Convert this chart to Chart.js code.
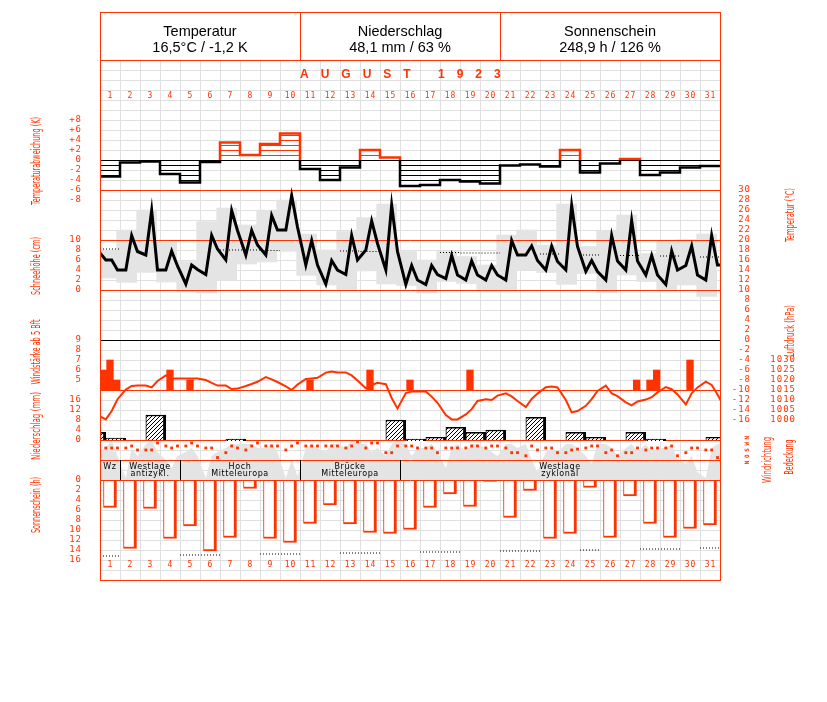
<!DOCTYPE html>
<html>
<head>
<meta charset="utf-8">
<title>August 1923</title>
<script src="https://cdn.jsdelivr.net/npm/chart.js@4.4.1/dist/chart.umd.min.js"></script>
<style>
  html, body { margin: 0; padding: 0; background: #fff; }
  canvas { display: block; }
</style>
</head>
<body>
<canvas id="klima" width="827" height="702"></canvas>
<script>
// Kopf
const headerTitles = ['Temperatur', 'Niederschlag', 'Sonnenschein'];
const headerValues = ['16,5°C / -1,2 K', '48,1 mm / 63 %', '248,9 h / 126 %'];
const monthTitle = 'AUGUST 1923';

const days = [1, 2, 3, 4, 5, 6, 7, 8, 9, 10, 11, 12, 13, 14, 15, 16, 17, 18, 19, 20,
  21, 22, 23, 24, 25, 26, 27, 28, 29, 30, 31];
const hours = [7, 14, 21]; // Terminbeobachtungen

// Temperatur an den Terminen 7, 14, 21 Uhr (°C)
const tempReadings = [
  [16, 16, 14], [14, 20.9, 17.7], [17, 25.9, 14], [14, 17.8, 14.8], [11.2, 15, 14.1],
  [13.1, 20.9, 18.2], [16, 25.9, 21.9], [17, 21.9, 19], [17, 24.9, 22], [22, 28.9, 22.6],
  [15, 19.9, 15], [11.2, 15.9, 14], [13.1, 20.9, 16], [18, 23.8, 19.3], [14, 27, 17.7],
  [11.1, 14.9, 12], [11.1, 14.9, 13.1], [12.3, 16.9, 13], [12, 15.8, 13], [12, 14.9, 13],
  [12, 19.9, 17], [17, 18.8, 15.9], [14, 18.8, 15.7], [14, 26.9, 18.7], [13.7, 15.9, 13.7],
  [12, 20.9, 15.8], [14, 23.9, 15.8], [13, 16.9, 13], [11.1, 17.8, 14], [14.9, 18.8, 13],
  [12, 20.9, 15]
];
const tempBefore = 18;   // 31.7. 21 Uhr
const tempAfter = 15;    // 1.9. 7 Uhr

const tMax = [18, 22, 26, 19.6, 15.7, 23.7, 26.4, 23, 26, 28, 21.2, 18, 21.7, 24.5, 27.2,
  17.7, 16, 17.7, 16.7, 15, 21, 22, 19, 27.2, 18.7, 21.8, 25, 17.3, 19.7, 20.1, 21.2];
const tMin = [12.4, 11.5, 13.5, 11.6, 9.7, 9.4, 12, 15.2, 15.6, 17.7, 12.9, 11, 10, 13.8, 11.2,
  10.9, 9.4, 11.7, 11.3, 9.8, 9.8, 14, 13.5, 11.1, 13.3, 9.5, 13, 11.7, 9.8, 11, 8.7];
// langjähriges Mittel (nur wo im Bild sichtbar)
const tempNormal = [18.2, null, null, null, null, null, 18.0, 18.0, 17.9, null, null, null,
  17.8, 17.7, null, null, null, 17.5, 17.4, 17.4, null, null, 17.2, null, 17.0, null, 16.9,
  null, 16.8, null, 16.6];

// Abweichung Tagesmittel (K)
const anomaly = [-3.3, -0.5, -0.3, -2.8, -4.5, -0.4, 3.5, 1, 3.2, 5.3, -1.8, -4, -1.5, 2, 0.5,
  -5.2, -5, -4, -4.3, -4.7, -1.1, -0.9, -1.3, 2, -2.5, -0.7, 0.2, -3, -2.5, -1.5, -1.2];

// Windstärke ab 5 Bft (Termine)
const windForce = [
  [6, 7, 5], [null, null, null], [null, null, null], [null, 6, null], [null, 5, null],
  [null, null, null], [null, null, null], [null, null, null], [null, null, null], [null, null, null],
  [null, 5, null], [null, null, null], [null, null, null], [null, 6, null], [null, null, null],
  [null, 5, null], [null, null, null], [null, null, null], [null, 6, null], [null, null, null],
  [null, null, null], [null, null, null], [null, null, null], [null, null, null], [null, null, null],
  [null, null, null], [null, null, 5], [null, 5, 6], [null, null, null], [null, 7, null],
  [null, null, null]
];

// Luftdruck (hPa)
const pressure = [
  [1000.3, 1004.5, 1010.4], [1015.2, 1017, 1017.2], [1017.2, 1016.3, 1019.5], [1022.3, 1020.8, 1020.8],
  [1020.8, 1020.8, 1020.8], [1020, 1018.6, 1017.2], [1017.2, 1015.5, 1015.7], [1017, 1018, 1019.1],
  [1021.5, 1020.3, 1019], [1016.8, 1015, 1017.7], [1020.5, 1020.8, 1021.1], [1023.7, 1024.2, 1023.8],
  [1023.8, 1022.3, 1019.7], [1015.9, 1017.5, 1018.6], [1017.9, 1011, 1005.8], [1013.5, 1014.2, 1014.2],
  [1014.2, 1011.7, 1008.6], [1002.5, 1000.3, 1000.3], [1002.8, 1005.4, 1009.5], [1010.4, 1010, 1012.2],
  [1013.3, 1011.8, 1009.5], [1006.5, 1010.5, 1013.2], [1016.4, 1016.7, 1016.3], [1010, 1003.8, 1004.5],
  [1007.1, 1010.4, 1014.5], [1017.2, 1013.3, 1011.9], [1008.8, 1007.3, 1009.3], [1010.2, 1011.4, 1013.8],
  [1016.5, 1015.4, 1012.8], [1007.8, 1013.3, 1016.3], [1019.2, 1017.5, 1012.7]
];
const pressureBefore = 1002.5;
const pressureAfter = 1005;

// Niederschlag (mm), gemessen 7 Uhr des Folgetages; 0 = Spur, null = trocken
const precipitation = [0.7, null, 10, null, null, null, 0, null, null, null, null, null, null, null, 8,
  0, 1.1, 5.1, 3.1, 4, null, 9.1, null, 3.1, 1.1, null, 3.1, 0, null, null, 1.1];
const precipBefore = 3.1;

// Windrichtung (Grad) an den Terminen
const windDir = [
  [225, 225, 225], [225, 270, 180], [180, 180, 338], [270, 225, 270], [270, 338, 270],
  [225, 225, 10], [120, 270, 225], [180, 270, 338], [270, 270, 270], [180, 270, 338],
  [270, 270, 270], [270, 270, 270], [225, 270, 360], [225, 338, 338], [120, 120, 270],
  [270, 270, 225], [225, 225, 120], [225, 225, 225], [225, 270, 270], [225, 270, 270],
  [225, 120, 120], [50, 270, 180], [225, 225, 120], [120, 180, 200], [225, 270, 270],
  [120, 180, 50], [120, 120, 225], [180, 225, 225], [225, 270, 50], [120, 225, 225],
  [180, 180, 10]
];

// Bedeckung (0-10)
const cloud = [
  [8, 10, 6], [0.5, 8, 6], [9, 10, 7], [5, 3, 6], [7, 8, 6], [0.5, 6, 7], [8, 9, 9], [9, 9, 8],
  [8, 9, 7], [0.5, 5, 1], [8, 9, 8], [7, 9, 9], [8, 10, 9], [9, 7, 8], [6, 9, 10], [9, 6, 8],
  [8, 9, 7], [3, 8, 9], [7, 9, 9], [8, 7, 6], [9, 9, 8], [9, 5, 2], [7, 8, 7], [9, 9, 8],
  [6, 4, 9], [9, 8, 6], [8, 9, 7], [9, 7, 8], [8, 9, 5], [4, 6, 2], [0.5, 8, 9]
];
const cloudBefore = 7;
const cloudAfter = 9;

// Sonnenscheindauer (h) und astronomisch mögliche Dauer (nur wo im Bild sichtbar)
const sunshine = [5.5, 13.7, 5.7, 11.7, 9.2, 14.2, 11.5, 1.7, 11.7, 12.5, 8.7, 5.0, 8.8, 10.5, 10.7,
  9.9, 5.5, 2.8, 5.3, 0.3, 7.5, 2.1, 11.7, 10.7, 1.5, 11.5, 3.2, 8.7, 11.5, 9.7, 9.0];
const sunPossible = [15.2, null, null, null, 15.0, 15.0, null, null, 14.8, 14.8, null, null, 14.6,
  14.6, null, null, 14.4, 14.4, null, null, 14.2, 14.2, null, null, 14.0, null, null, 13.8, 13.8,
  null, 13.6];

// Großwetterlagen
const weatherTypes = ['Wz', 'Westlage antizykl.', 'Hoch Mitteleuropa', 'Brücke Mitteleuropa', 'Westlage zyklonal'];
const weatherFirstDay = [1, 2, 5, 11, 16];

// Achsenbeschriftungen
const anomalyTicks = [8, 6, 4, 2, 0, -2, -4, -6, -8];
const snowTicks = [10, 8, 6, 4, 2, 0];
const windTicks = [9, 8, 7, 6, 5];
const precipTicks = [16, 12, 8, 4, 0];
const sunTicks = [0, 2, 4, 6, 8, 10, 12, 14, 16];
const tempTicks = [30, 28, 26, 24, 22, 20, 18, 16, 14, 12, 10, 8, 6, 4, 2, 0, -2, -4, -6, -8, -10, -12, -14, -16];
const pressureTicks = [1030, 1025, 1020, 1015, 1010, 1005, 1000];
const dirLabels = 'NOSWN';

const RED = '#ff3300';
const GRID = '#e0e0e0';
const SHADE = '#e4e4e4';
const MONO = '"DejaVu Sans Mono", monospace';
const NARROW = '"Liberation Sans Narrow", "DejaVu Sans Condensed", sans-serif';

const canvas = document.getElementById('klima');
const ctx = canvas.getContext('2d');

// Schraffuren
function pattern(w, h, color, cells) {
  const c = document.createElement('canvas');
  c.width = w; c.height = h;
  const g = c.getContext('2d');
  g.fillStyle = '#fff';
  g.fillRect(0, 0, w, h);
  g.fillStyle = color;
  cells.forEach(([x, y, cw, ch]) => g.fillRect(x, y, cw, ch));
  return ctx.createPattern(c, 'repeat');
}
function linesOnly(color) {
  const c = document.createElement('canvas');
  c.width = 4; c.height = 5;
  const g = c.getContext('2d');
  g.fillStyle = color;
  g.fillRect(0, 0, 4, 1);
  return ctx.createPattern(c, 'repeat');
}
const redLines = linesOnly(RED);
const blackLines = linesOnly('#000');
const hatch = pattern(4, 4, '#000', [[0, 3, 1, 1], [1, 2, 1, 1], [2, 1, 1, 1], [3, 0, 1, 1]]);

const atHours = rows => rows.flatMap((row, i) => row.map((v, k) => ({x: i + hours[k] / 24, y: v})));
const stepPts = vals => vals.flatMap((v, i) => [{x: i, y: v}, {x: i + 1, y: v}]);

const tempData = [{x: -3 / 24, y: tempBefore}, ...atHours(tempReadings), {x: 31 + 7 / 24, y: tempAfter}];
const pressData = [{x: -3 / 24, y: pressureBefore}, ...atHours(pressure), {x: 31 + 7 / 24, y: pressureAfter}];
const cloudData = [{x: -3 / 24, y: cloudBefore}, ...atHours(cloud), {x: 31 + 7 / 24, y: cloudAfter}];
const dirData = atHours(windDir);

const windData = [];
windForce.forEach((row, i) => row.forEach((b, k) => {
  if (b != null) windData.push({x: i + (k + 0.5) / 3, y: [4, b]});
}));
const precipData = [{x: -1 + 7 / 24 + 0.5, y: precipBefore}];
precipitation.forEach((p, i) => { if (p != null) precipData.push({x: i + 7 / 24 + 0.5, y: p}); });

const hidden = extra => Object.assign({type: 'linear', display: false}, extra);
const noSeg = color => ({
  borderColor: c => (c.p0.parsed.y === 0 && c.p1.parsed.y === 0) ? 'rgba(0,0,0,0)' : color
});

function crisp(v) { return Math.round(v) + 0.5; }
function hline(c, a, y, color) {
  c.strokeStyle = color; c.lineWidth = 1;
  c.beginPath(); c.moveTo(a.left, crisp(y)); c.lineTo(a.right + 1, crisp(y)); c.stroke();
}
function vText(c, text, x, yc, len, font, color) {
  c.save();
  c.font = font; c.fillStyle = color;
  c.translate(x, yc); c.rotate(-Math.PI / 2);
  const w = c.measureText(text).width;
  c.scale(len / w, 1);
  c.textAlign = 'center'; c.textBaseline = 'middle';
  c.fillText(text, 0, 0);
  c.restore();
}

const decor = {
  id: 'decor',
  beforeDatasetsDraw(chart) {
    const {ctx: c, chartArea: a, scales: s} = chart;
    c.save();
    c.strokeStyle = GRID; c.lineWidth = 1;
    c.beginPath();
    for (let d = 1; d < 31; d++) {
      const x = crisp(s.x.getPixelForValue(d));
      c.moveTo(x, a.top); c.lineTo(x, a.bottom);
    }
    for (let v = s.yT.min + 2; v < s.yT.max; v += 2) {
      const y = crisp(s.yT.getPixelForValue(v));
      c.moveTo(a.left, y); c.lineTo(a.right, y);
    }
    c.stroke();
    hline(c, a, s.yA.getPixelForValue(0), '#000');
    c.restore();
  },
  afterDatasetDraw(chart, args) {
    if (chart.data.datasets[args.index].label !== 'Tmax/Tmin') return;
    const {ctx: c, chartArea: a, scales: s} = chart;
    c.save();
    [[s.yT, 30], [s.yT, 20], [s.yT, 10], [s.yW, 4], [s.yR, 0], [s.yC, 5]].forEach(([sc, v]) =>
      hline(c, a, sc.getPixelForValue(v), RED));
    hline(c, a, s.yW.getPixelForValue(9), '#000');
    c.restore();
  },
  afterDraw(chart) {
    const {ctx: c, chartArea: a, scales: s} = chart;
    const px = d => s.x.getPixelForValue(d);
    c.save();

    // Großwetterlagen
    const rowTop = s.yC.getPixelForValue(5);
    const rowBot = s.yC.getPixelForValue(0);
    c.strokeStyle = '#000'; c.lineWidth = 1;
    c.beginPath();
    weatherFirstDay.forEach((d, i) => {
      if (i === 0) return;
      const x = crisp(px(d - 1));
      c.moveTo(x, rowTop); c.lineTo(x, rowBot);
    });
    c.stroke();
    c.fillStyle = '#000';
    c.font = '8px "DejaVu Sans", sans-serif';
    c.letterSpacing = '0.6px';
    c.textAlign = 'center'; c.textBaseline = 'middle';
    weatherTypes.forEach((t, i) => {
      const x0 = px(weatherFirstDay[i] - 1);
      const x1 = px(i + 1 < weatherFirstDay.length ? weatherFirstDay[i + 1] - 1 : 31);
      t.split(' ').forEach((line, j) => c.fillText(line, (x0 + x1) / 2, rowTop + 6.5 + j * 7.5));
    });
    c.letterSpacing = '0px';

    // Rahmen und Kopf
    c.strokeStyle = RED; c.lineWidth = 1;
    const top = 12;
    c.strokeRect(100.5, top + 0.5, 620, a.bottom - top);
    hline(c, a, a.top, RED);
    hline(c, a, s.yS.getPixelForValue(0), RED);
    c.beginPath();
    [10, 20].forEach(d => { const x = crisp(px(d)); c.moveTo(x, top); c.lineTo(x, a.top); });
    c.stroke();
    c.fillStyle = '#000';
    c.font = '14.5px "Liberation Sans", Arial, sans-serif';
    const boxes = [[0, 10], [10, 20], [20, 31]];
    boxes.forEach(([d0, d1], i) => {
      const xc = (px(d0) + px(d1)) / 2;
      c.fillText(headerTitles[i], xc, 32);
      c.fillText(headerValues[i], xc, 48);
    });

    // Monat
    c.fillStyle = RED;
    c.font = 'bold 12px "Liberation Sans", Arial, sans-serif';
    c.letterSpacing = '12px';
    c.textAlign = 'left';
    c.fillText(monthTitle, px(10), 75);
    c.letterSpacing = '0px';

    // Tage
    c.textAlign = 'center';
    c.font = '8px ' + MONO;
    c.letterSpacing = '1px';
    days.forEach(d => {
      c.fillText(String(d), px(d - 0.5) + 0.5, 96);
      c.fillText(String(d), px(d - 0.5) + 0.5, 565);
    });

    // Achsenzahlen links
    c.font = '9px ' + MONO;
    c.textAlign = 'right';
    const left = (sc, vals, fmt) => vals.forEach(v => c.fillText(fmt ? fmt(v) : String(v), 82, sc.getPixelForValue(v)));
    left(s.yA, anomalyTicks, v => v > 0 ? '+' + v : String(v));
    left(s.yN, snowTicks);
    left(s.yW, windTicks);
    left(s.yR, precipTicks);
    left(s.yS, sunTicks);
    // rechts
    tempTicks.forEach(v => c.fillText(String(v), 751, s.yT.getPixelForValue(v)));
    pressureTicks.forEach(v => c.fillText(String(v), 796, s.yP.getPixelForValue(v)));
    c.letterSpacing = '0px';

    // Titel
    const f = '12px ' + NARROW;
    vText(c, 'Temperaturabweichung (K)', 37, 161, 88, f, RED);
    vText(c, 'Schneehöhe (cm)', 37, 266, 58, f, RED);
    vText(c, 'Windstärke ab 5 Bft', 37, 352, 65, f, RED);
    vText(c, 'Niederschlag (mm)', 37, 426, 68, f, RED);
    vText(c, 'Sonnenschein (h)', 37, 505, 56, f, RED);
    vText(c, 'Temperatur (°C)', 791, 215, 54, f, RED);
    vText(c, 'Luftdruck (hPa)', 791, 331, 52, f, RED);
    vText(c, 'Windrichtung', 768, 460, 46, f, RED);
    vText(c, 'Bedeckung', 790, 457, 35, f, RED);
    c.save();
    c.translate(747, 450); c.rotate(-Math.PI / 2);
    c.font = 'bold 6px ' + MONO; c.fillStyle = RED; c.textAlign = 'center'; c.textBaseline = 'middle';
    dirLabels.split('').forEach((ch, i) => c.fillText(ch, (i - 2) * 6.2, 0));
    c.restore();

    c.restore();
  }
};

new Chart(canvas, {
  type: 'bar',
  data: {
    datasets: [
      {
        type: 'line', label: 'Bedeckung', data: cloudData, yAxisID: 'yC',
        borderColor: 'rgba(0,0,0,0)', borderWidth: 0, backgroundColor: SHADE, fill: 'origin',
        pointRadius: 0, order: 19, clip: 0
      },
      {
        label: 'Tmax/Tmin', data: tMax.map((mx, i) => ({x: i + 0.5 - 4 / 24, y: [tMin[i], mx]})),
        yAxisID: 'yT', backgroundColor: SHADE, borderWidth: 0, barThickness: 20, grouped: false,
        order: 18
      },
      {
        type: 'line', label: 'Normal', data: stepPts(tempNormal),
        yAxisID: 'yT', borderColor: '#000', borderWidth: 1, borderDash: [1, 2], pointRadius: 0,
        spanGaps: false, order: 7, clip: 0
      },
      {
        type: 'line', label: 'möglich', data: stepPts(sunPossible),
        yAxisID: 'yS', borderColor: '#000', borderWidth: 1, borderDash: [1, 2], pointRadius: 0,
        spanGaps: false, order: 7, clip: 0
      },
      {
        type: 'line', label: 'Abweichung +', data: stepPts(anomaly.map(v => Math.max(v, 0))),
        yAxisID: 'yA', borderColor: RED, borderWidth: 2.5, segment: noSeg(RED),
        backgroundColor: redLines, fill: 'origin', pointRadius: 0, order: 5, clip: 0
      },
      {
        type: 'line', label: 'Abweichung -', data: stepPts(anomaly.map(v => Math.min(v, 0))),
        yAxisID: 'yA', borderColor: '#000', borderWidth: 2.5, segment: noSeg('#000'),
        backgroundColor: blackLines, fill: 'origin', pointRadius: 0, order: 5, clip: 0
      },
      {
        label: 'Windstärke', data: windData, yAxisID: 'yW', backgroundColor: RED, borderWidth: 0,
        barThickness: 20 / 3, grouped: false, order: 6
      },
      {
        label: 'Niederschlag', data: precipData, yAxisID: 'yR', backgroundColor: hatch,
        borderColor: '#000', borderWidth: {left: 1, top: 1.5, right: 3, bottom: 0}, borderSkipped: false,
        barThickness: 20, grouped: false, minBarLength: 2, order: 6
      },
      {
        label: 'Sonnenschein', data: sunshine.map((h, i) => ({x: i + 0.5, y: h})), yAxisID: 'yS',
        backgroundColor: '#fff', borderColor: RED, borderWidth: {left: 1, top: 0, right: 3, bottom: 2},
        borderSkipped: false, barThickness: 13, grouped: false, order: 6
      },
      {
        type: 'line', label: 'Luftdruck', data: pressData, yAxisID: 'yP', borderColor: RED,
        borderWidth: 2, pointRadius: 0, fill: false, order: 4, clip: 0
      },
      {
        type: 'line', label: 'Temperatur', data: tempData, yAxisID: 'yT', borderColor: '#000',
        borderWidth: 3, pointRadius: 0, fill: false, order: 3, clip: 0
      },
      {
        type: 'line', label: 'Windrichtung', data: dirData, yAxisID: 'yD', showLine: false,
        pointStyle: 'rect', pointRadius: 2, pointBorderWidth: 0, pointBackgroundColor: RED,
        order: 1
      }
    ]
  },
  options: {
    responsive: false,
    animation: false,
    events: [],
    layout: {padding: {left: 100, right: 107, top: 60, bottom: 122}},
    plugins: {legend: {display: false}, tooltip: {enabled: false}},
    scales: {
      x: hidden({min: 0, max: 31, offset: false}),
      yT: hidden({min: -48, max: 56}),
      yA: hidden({min: -84, max: 20}),
      yN: hidden({min: -58, max: 46}),
      yW: hidden({min: -15, max: 37}),
      yP: hidden({min: 920, max: 1180}),
      yR: hidden({min: -56, max: 152}),
      yS: hidden({min: -84, max: 20, reverse: true}),
      yC: hidden({min: -25, max: 105}),
      yD: hidden({min: -2745, max: 8955})
    }
  },
  plugins: [decor]
});
</script>
</body>
</html>
